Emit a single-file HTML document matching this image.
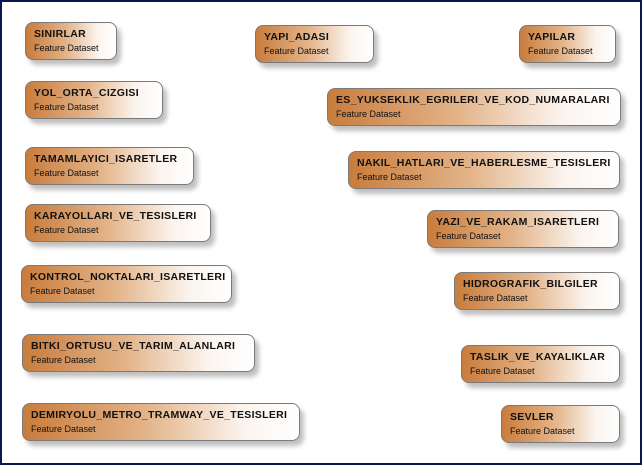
<!DOCTYPE html>
<html><head><style>
html,body{margin:0;padding:0;}
body{width:642px;height:465px;position:relative;background:#fff;overflow:hidden;font-family:"Liberation Sans",Arial,sans-serif;}
.frame{position:absolute;left:0;top:0;width:638px;height:461px;border:2px solid #0b1650;}
.b{position:absolute;height:38px;box-sizing:border-box;border:1px solid #7a7a7a;border-radius:8px;
background:linear-gradient(to right,#c97c3c 0%,#e3b48a 45%,#fbf4ee 80%,#fff 100%);
box-shadow:4px 5px 5px rgba(0,0,0,0.25);padding:5px 0 0 8px;}
.t{font-weight:bold;font-size:10.5px;color:#111;letter-spacing:0.3px;line-height:12px;}
.s{font-size:9px;color:#111;line-height:12px;margin-top:2px;}
</style></head><body>
<div class="frame"></div>
<div class="b" style="left:25px;top:22px;width:92px"><div class="t">SINIRLAR</div><div class="s">Feature Dataset</div></div>
<div class="b" style="left:25px;top:81px;width:138px"><div class="t">YOL_ORTA_CIZGISI</div><div class="s">Feature Dataset</div></div>
<div class="b" style="left:25px;top:147px;width:169px"><div class="t">TAMAMLAYICI_ISARETLER</div><div class="s">Feature Dataset</div></div>
<div class="b" style="left:25px;top:204px;width:186px"><div class="t">KARAYOLLARI_VE_TESISLERI</div><div class="s">Feature Dataset</div></div>
<div class="b" style="left:21px;top:265px;width:211px"><div class="t">KONTROL_NOKTALARI_ISARETLERI</div><div class="s">Feature Dataset</div></div>
<div class="b" style="left:22px;top:334px;width:233px"><div class="t">BITKI_ORTUSU_VE_TARIM_ALANLARI</div><div class="s">Feature Dataset</div></div>
<div class="b" style="left:22px;top:403px;width:278px"><div class="t">DEMIRYOLU_METRO_TRAMWAY_VE_TESISLERI</div><div class="s">Feature Dataset</div></div>
<div class="b" style="left:255px;top:25px;width:119px"><div class="t">YAPI_ADASI</div><div class="s">Feature Dataset</div></div>
<div class="b" style="left:519px;top:25px;width:97px"><div class="t">YAPILAR</div><div class="s">Feature Dataset</div></div>
<div class="b" style="left:327px;top:88px;width:294px"><div class="t">ES_YUKSEKLIK_EGRILERI_VE_KOD_NUMARALARI</div><div class="s">Feature Dataset</div></div>
<div class="b" style="left:348px;top:151px;width:272px"><div class="t">NAKIL_HATLARI_VE_HABERLESME_TESISLERI</div><div class="s">Feature Dataset</div></div>
<div class="b" style="left:427px;top:210px;width:192px"><div class="t">YAZI_VE_RAKAM_ISARETLERI</div><div class="s">Feature Dataset</div></div>
<div class="b" style="left:454px;top:272px;width:166px"><div class="t">HIDROGRAFIK_BILGILER</div><div class="s">Feature Dataset</div></div>
<div class="b" style="left:461px;top:345px;width:159px"><div class="t">TASLIK_VE_KAYALIKLAR</div><div class="s">Feature Dataset</div></div>
<div class="b" style="left:501px;top:405px;width:119px"><div class="t">SEVLER</div><div class="s">Feature Dataset</div></div>
</body></html>
